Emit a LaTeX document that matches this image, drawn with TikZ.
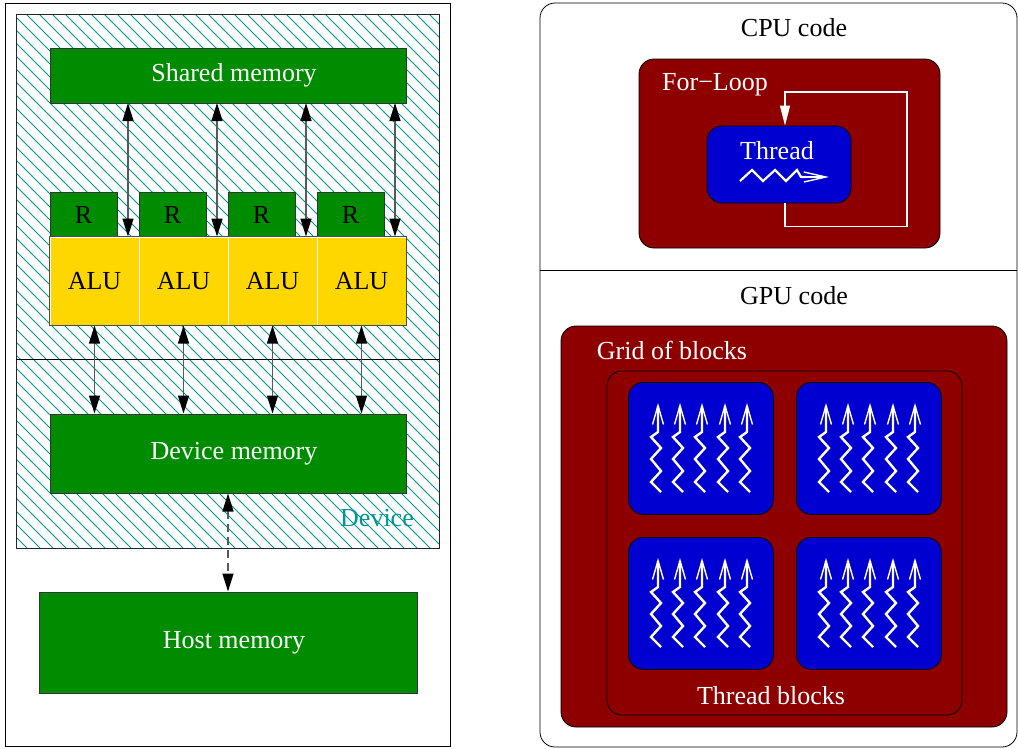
\documentclass[tikz,border=0pt]{standalone}
\usepackage{fontspec}
\setmainfont{Liberation Serif}
\usetikzlibrary{arrows.meta,calc}
\definecolor{xgreen}{RGB}{0,140,0}
\definecolor{xgold}{RGB}{255,215,0}
\definecolor{xred}{RGB}{142,0,0}
\definecolor{xblue}{RGB}{0,0,208}
\definecolor{xteal}{RGB}{0,150,150}
\begin{document}
\begin{tikzpicture}[x=1pt,y=-1pt,
  lbl/.style={font=\fontsize{26}{31}\selectfont, inner sep=0pt},
  mem/.style={lbl, fill=xgreen, draw=black!80, line width=1pt, text=white},
  regbox/.style={lbl, fill=xgreen, draw=black!80, line width=1pt, text=black, minimum width=67pt, minimum height=45pt},
  alubox/.style={lbl, fill=xgold, draw=white, line width=1pt, text=black, minimum width=89pt, minimum height=88pt},
  bidir/.style={{Triangle[length=18pt,width=11pt,color=black]}-{Triangle[length=18pt,width=11pt,color=black]}, line width=1.3pt, draw=black!65},
  redbox/.style={fill=xred, draw=black, line width=0.8pt, rounded corners=15pt},
  bluebox/.style={fill=xblue, draw=black, line width=0.8pt, rounded corners=15pt},
  thr/.style={white, line width=2.4pt, line join=miter, -{Straight Barb[length=19pt,width=11pt,line width=1.4pt]}}
]
\useasboundingbox (0,0) rectangle (1018,748);
\fill[white] (0,0) rectangle (1018,748);

% ---------- left part ----------
\draw[line width=0.8pt] (5,3) rectangle (450,746);
\begin{scope}
  \clip (16,14) rectangle (439,548);
  \foreach \x in {-520,-507,...,439} \draw[xteal, line width=0.9pt] (\x,14) -- ++(534,534);
\end{scope}
\draw[line width=1pt, black!85] (16,14) rectangle (439,548);
\draw[line width=1pt] (16,359) -- (439,359);

\node[mem, minimum width=356pt, minimum height=55pt] (shared) at (228,75.5) {\hspace*{12pt}Shared memory};
\node[regbox] (r1) at (83.5,214.5) {R};
\node[regbox] (r2) at (172.5,214.5) {R};
\node[regbox] (r3) at (261.5,214.5) {R};
\node[regbox] (r4) at (350.5,214.5) {R};
\node[alubox] (alu1) at (94.5,281) {ALU};
\node[alubox] (alu2) at (183.5,281) {ALU};
\node[alubox] (alu3) at (272.5,281) {ALU};
\node[alubox] (alu4) at (361.5,281) {ALU};
\draw[line width=1pt, black!70] (alu1.north west) rectangle (alu4.south east);

\node[mem, minimum width=356pt, minimum height=79pt] (dev) at (228,453.5) {\hspace*{12pt}Device memory};
\node[mem, minimum width=378pt, minimum height=101pt] (host) at (228,642.5) {\hspace*{12pt}Host memory};
\node[lbl, text=xteal] (devlbl) at (377,518) {Device};

\coordinate (s1) at (128,103);
\coordinate (s2) at (217,103);
\coordinate (s3) at (306,103);
\coordinate (s4) at (395,103);
\draw[bidir] (s1) -- (s1 |- alu1.north);
\draw[bidir] (s2) -- (s2 |- alu1.north);
\draw[bidir] (s3) -- (s3 |- alu1.north);
\draw[bidir] (s4) -- (s4 |- alu1.north);

\draw[bidir] (alu1.south) -- (alu1.south |- dev.north);
\draw[bidir] (alu2.south) -- (alu2.south |- dev.north);
\draw[bidir] (alu3.south) -- (alu3.south |- dev.north);
\draw[bidir] (alu4.south) -- (alu4.south |- dev.north);
\draw[bidir, dashed, dash pattern=on 8pt off 5pt] (dev.south) -- (host.north);

% ---------- right part ----------
\draw[line width=0.8pt, rounded corners=15pt] (540,3) rectangle (1017,747);
\draw[line width=0.8pt] (540,270) -- (1017,270);
\node[lbl] (cpu) at (794,28) {CPU code};
\node[lbl] (gpu) at (794,296) {GPU code};

\node[redbox, minimum width=301pt, minimum height=189pt] (loop) at (789.5,153.5) {};
\node[lbl, text=white] (looplbl) at (715,85) {For−Loop};
\node[bluebox, minimum width=144pt, minimum height=77pt] (thread) at (779,164.5) {};
\node[lbl, text=white] (threadlbl) at (777,151) {Thread};
\draw[white, line width=2.2pt, line join=miter] (740,181) -- (752,170) -- (763,181) -- (775,170) -- (786,181) -- (797,170) -- (801,177) -- (806,177);
\draw[white, line width=2.2pt, -{Straight Barb[length=22pt,width=10pt,line width=1.4pt]}] (800,177) -- (829,177);
\draw[white, line width=1.2pt, -{Triangle[length=20pt,width=10pt]}]
  ([xshift=6pt]thread.south) -- ++(0,23) -| (907,92) -| ([xshift=6pt]thread.north);

\node[redbox, minimum width=446pt, minimum height=401pt] (grid) at (784,526.5) {};
\node[lbl, text=white] (gridlbl) at (672,350) {Grid of blocks};
\node[redbox, minimum width=355pt, minimum height=344pt] (tb) at (784.5,543) {};
\node[lbl, text=white] (tblbl) at (771,696) {Thread blocks};

\foreach \bx/\by [count=\i] in {628/382, 796/382, 628/537, 796/537} {
  \node[bluebox, anchor=north west, minimum width=145pt, minimum height=132pt] (blk\i) at (\bx,\by) {};
  \foreach \s in {30,52,74,97,119} {
    \draw[thr] (\bx+\s+3,\by+110) -- (\bx+\s-7,\by+100) -- (\bx+\s+3,\by+89) -- (\bx+\s-7,\by+77)
      -- (\bx+\s+3,\by+66) -- (\bx+\s-7,\by+55) -- (\bx+\s,\by+50) -- (\bx+\s,\by+21);
  }
}
\end{tikzpicture}
\end{document}
